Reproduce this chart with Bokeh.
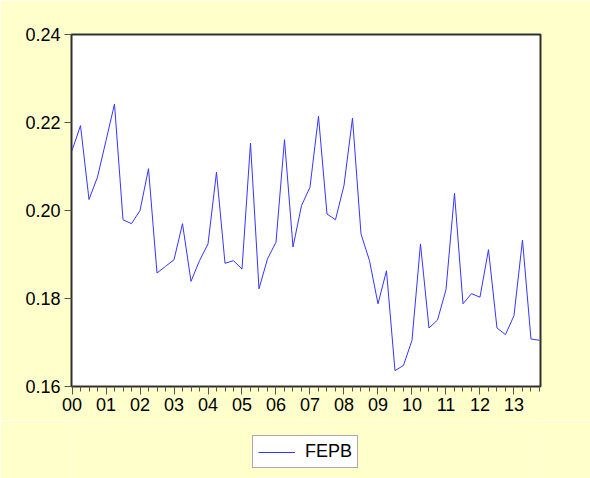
from bokeh.plotting import figure
from bokeh.layouts import column
from bokeh.models import Range1d, FixedTicker, Legend, LegendItem, NumeralTickFormatter
from bokeh.embed import file_html
from bokeh.resources import INLINE

# Quarterly data 2000Q1 .. 2013Q4
year_labels = ["00", "01", "02", "03", "04", "05", "06", "07", "08", "09", "10", "11", "12", "13"]
fepb = [
    0.2136, 0.2193, 0.2025, 0.2076,   # 2000
    0.2159, 0.2242, 0.1979, 0.1970,   # 2001
    0.2000, 0.2095, 0.1858, 0.1873,   # 2002
    0.1888, 0.1970, 0.1839, 0.1886,   # 2003
    0.1924, 0.2087, 0.1880, 0.1886,   # 2004
    0.1867, 0.2153, 0.1822, 0.1890,   # 2005
    0.1928, 0.2161, 0.1917, 0.2011,   # 2006
    0.2053, 0.2214, 0.1992, 0.1979,   # 2007
    0.2057, 0.2210, 0.1947, 0.1886,   # 2008
    0.1788, 0.1863, 0.1636, 0.1648,   # 2009
    0.1705, 0.1924, 0.1733, 0.1751,   # 2010
    0.1820, 0.2039, 0.1788, 0.1811,   # 2011
    0.1803, 0.1911, 0.1733, 0.1718,   # 2012
    0.1761, 0.1933, 0.1708, 0.1705,   # 2013
]
y_ticks = [0.16, 0.18, 0.20, 0.22, 0.24]
series_name = "FEPB"

quarters = list(range(len(fepb)))
year_ticks = [4 * i for i in range(len(year_labels))]

BG = "#FFFFCC"
FONT = "Liberation Sans"
LINE_COLOR = "#3535FF"

p = figure(width=590, height=420, output_backend="svg", toolbar_location=None,
           x_range=Range1d(-0.06, len(fepb) - 1 + 0.12),
           y_range=Range1d(y_ticks[0], y_ticks[-1]),
           min_border_left=71, min_border_right=50, min_border_top=34, min_border_bottom=34)

p.border_fill_color = BG
p.background_fill_color = "white"
p.outline_line_color = "#303030"
p.outline_line_width = 2
p.grid.visible = False

r = p.line(quarters, fepb, line_color=LINE_COLOR, line_width=1)

# x axis
xa = p.xaxis[0]
xa.ticker = FixedTicker(ticks=year_ticks, minor_ticks=quarters)
xa.major_label_overrides = {t: lab for t, lab in zip(year_ticks, year_labels)}
xa.major_tick_out = 8
xa.major_tick_in = 0
xa.minor_tick_out = 5
xa.minor_tick_in = 0
xa.major_tick_line_color = "#555555"
xa.minor_tick_line_color = "#555555"
xa.axis_line_color = "#303030"
xa.major_label_text_font = FONT
xa.major_label_text_font_size = "18px"
xa.major_label_text_color = "black"
xa.major_label_standoff = 3

# y axis
ya = p.yaxis[0]
ya.ticker = FixedTicker(ticks=y_ticks, minor_ticks=[])
ya.formatter = NumeralTickFormatter(format="0.00")
ya.major_tick_out = 7
ya.major_tick_in = 0
ya.minor_tick_line_color = None
ya.major_tick_line_color = "#555555"
ya.axis_line_color = "#303030"
ya.major_label_text_font = FONT
ya.major_label_text_font_size = "18px"
ya.major_label_text_color = "black"
ya.major_label_standoff = 4

# legend strip below the chart
p2 = figure(width=590, height=58, output_backend="svg", toolbar_location=None,
            x_range=Range1d(1000, 1001), y_range=Range1d(0, 1),
            x_axis_type=None, y_axis_type=None,
            min_border_left=0, min_border_right=0, min_border_top=0, min_border_bottom=0)
p2.border_fill_color = BG
p2.background_fill_color = BG
p2.outline_line_color = None
p2.grid.visible = False
r2 = p2.line(quarters, fepb, line_color=LINE_COLOR, line_width=1)

legend = Legend(items=[LegendItem(label=series_name, renderers=[r2])],
                location=(181, 10), orientation="horizontal",
                padding=5, margin=0, spacing=0,
                glyph_width=37, label_standoff=10,
                label_text_font=FONT, label_text_font_size="18px",
                label_text_color="black",
                border_line_color="#555555", border_line_width=1,
                background_fill_color="white", background_fill_alpha=1.0)
p2.add_layout(legend, "center")

layout = column(p, p2, spacing=0)
open("out.html", "w").write(file_html(layout, INLINE))
